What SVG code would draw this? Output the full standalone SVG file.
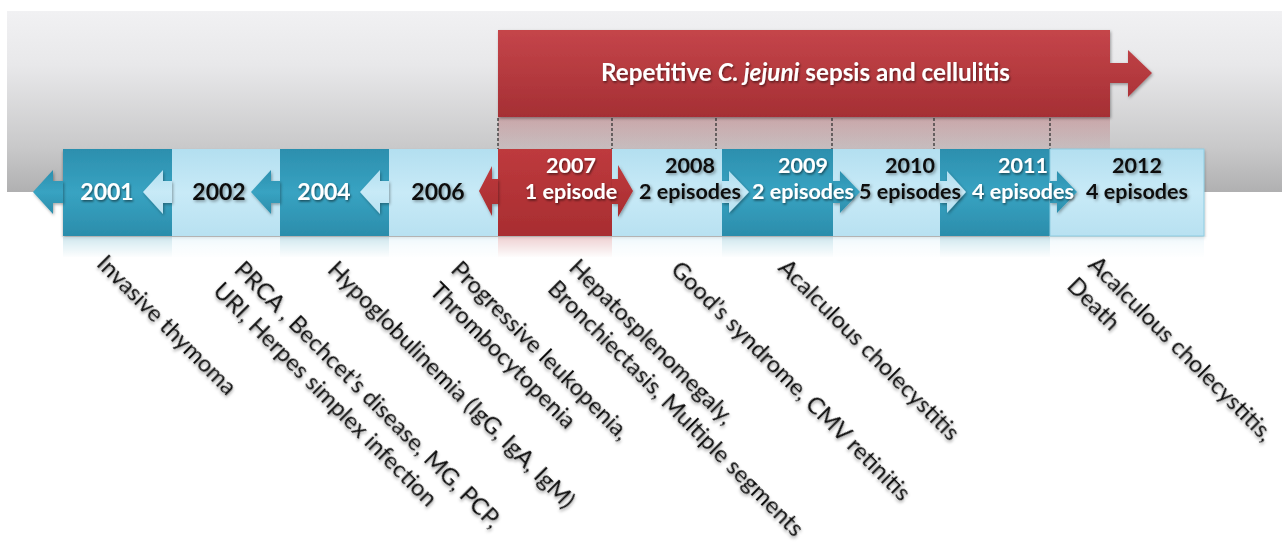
<svg xmlns="http://www.w3.org/2000/svg" width="1282" height="545" viewBox="0 0 1282 545">
<defs>
<linearGradient id="gBand" x1="0" y1="0" x2="0" y2="1">
<stop offset="0" stop-color="#f1f1f3"/>
<stop offset="0.3" stop-color="#e8e8ea"/>
<stop offset="0.75" stop-color="#c9c9ca"/>
<stop offset="1" stop-color="#b0b0b1"/>
</linearGradient>
<linearGradient id="gBanner" x1="0" y1="0" x2="0" y2="1">
<stop offset="0" stop-color="#c5454a"/>
<stop offset="1" stop-color="#a52f34"/>
</linearGradient>
<linearGradient id="gPink" x1="0" y1="0" x2="0" y2="1">
<stop offset="0" stop-color="#b03a40" stop-opacity="0.3"/>
<stop offset="1" stop-color="#b03a40" stop-opacity="0.08"/>
</linearGradient>
<linearGradient id="gDark" x1="0" y1="0" x2="0" y2="1">
<stop offset="0" stop-color="#2c8fae"/>
<stop offset="0.5" stop-color="#38a3c2"/>
<stop offset="1" stop-color="#2b8dab"/>
</linearGradient>
<linearGradient id="gLight" x1="0" y1="0" x2="0" y2="1">
<stop offset="0" stop-color="#b3dff0"/>
<stop offset="0.5" stop-color="#c8eaf7"/>
<stop offset="1" stop-color="#b8e1f1"/>
</linearGradient>
<linearGradient id="gRed" x1="0" y1="0" x2="0" y2="1">
<stop offset="0" stop-color="#be3a3d"/>
<stop offset="1" stop-color="#a82d31"/>
</linearGradient>
<linearGradient id="gRefl" x1="0" y1="0" x2="0" y2="1">
<stop offset="0" stop-color="#fff" stop-opacity="0.55"/>
<stop offset="1" stop-color="#fff" stop-opacity="1"/>
</linearGradient>
<filter id="fBox" x="-5%" y="-10%" width="110%" height="130%">
<feDropShadow dx="0" dy="2" stdDeviation="1.5" flood-color="#000" flood-opacity="0.35"/>
</filter>
<filter id="fArr" x="-30%" y="-30%" width="160%" height="160%">
<feDropShadow dx="1" dy="1.5" stdDeviation="1.5" flood-color="#000" flood-opacity="0.35"/>
</filter>
<filter id="fTxt" x="-10%" y="-30%" width="120%" height="160%">
<feDropShadow dx="1" dy="1.5" stdDeviation="0.8" flood-color="#000" flood-opacity="0.55"/>
</filter>
<filter id="fLab" x="-10%" y="-30%" width="120%" height="160%">
<feDropShadow dx="1.5" dy="1.5" stdDeviation="1.4" flood-color="#000" flood-opacity="0.4"/>
</filter>
</defs>
<style>
.yr{font-family:Lato,"Liberation Sans",sans-serif;font-weight:bold;font-size:21.5px;text-anchor:middle}
.big{font-size:23px}
.w{fill:#ffffff;filter:url(#fTxt)}
.k{fill:#111111;filter:url(#fLab)}
.lab{font-family:Lato,"Liberation Sans",sans-serif;font-size:23.5px;fill:#111;filter:url(#fLab)}
.tick{stroke:#333;stroke-width:1.3;stroke-dasharray:3 2;fill:none}
.dark{fill:url(#gDark)}
.light{fill:url(#gLight)}
.red{fill:url(#gRed)}
</style>
<rect width="1282" height="545" fill="#ffffff"/>
<rect x="7" y="11" width="1275" height="181" fill="url(#gBand)"/>

<g id="banner">
<rect x="498" y="117" width="612" height="32" fill="url(#gPink)"/>
<path d="M498,30 H1110 V63 H1128 V50 L1152,73 L1128,97 V83 H1110 V117 H498 Z" fill="url(#gBanner)" filter="url(#fArr)"/>
<text x="805.5" y="81" class="yr w" style="font-size:24px" textLength="409" lengthAdjust="spacingAndGlyphs">Repetitive <tspan font-style="italic">C. jejuni</tspan> sepsis and cellulitis</text>
</g>

<g id="connectors">
<line class="tick" x1="498" y1="118" x2="498" y2="149"/>
<line class="tick" x1="612" y1="118" x2="612" y2="149"/>
<line class="tick" x1="716" y1="118" x2="716" y2="149"/>
<line class="tick" x1="832" y1="118" x2="832" y2="149"/>
<line class="tick" x1="934" y1="118" x2="934" y2="149"/>
<line class="tick" x1="1050" y1="118" x2="1050" y2="149"/>
</g>

<g id="boxes" filter="url(#fBox)">
<rect x="63" y="149" width="109" height="87" class="dark"/>
<rect x="172" y="149" width="108" height="87" class="light"/>
<rect x="280" y="149" width="109" height="87" class="dark"/>
<rect x="389" y="149" width="109" height="87" class="light"/>
<rect x="498" y="149" width="114" height="87" class="red"/>
<rect x="612" y="149" width="110" height="87" class="light"/>
<rect x="722" y="149" width="111" height="87" class="dark"/>
<rect x="833" y="149" width="107" height="87" class="light"/>
<rect x="940" y="149" width="110" height="87" class="dark"/>
<rect x="1050" y="149" width="154" height="87" class="light" stroke="#8fcde2" stroke-width="1"/>
</g>
<g id="reflection" opacity="0.5">
<rect x="63" y="237" width="109" height="20" class="dark"/>
<rect x="172" y="237" width="108" height="20" class="light"/>
<rect x="280" y="237" width="109" height="20" class="dark"/>
<rect x="389" y="237" width="109" height="20" class="light"/>
<rect x="498" y="237" width="114" height="20" class="red"/>
<rect x="612" y="237" width="110" height="20" class="light"/>
<rect x="722" y="237" width="111" height="20" class="dark"/>
<rect x="833" y="237" width="107" height="20" class="light"/>
<rect x="940" y="237" width="110" height="20" class="dark"/>
<rect x="1050" y="237" width="154" height="20" class="light"/>
</g>
<rect x="0" y="237" width="1282" height="21" fill="url(#gRefl)"/>

<g id="arrows">
<path class="dark" filter="url(#fArr)" d="M63,181 H53 V170 L33,192 L53,214 V203 H63 Z"/>
<path class="light" filter="url(#fArr)" d="M172,181 H163 V170 L143,192 L163,214 V203 H172 Z"/>
<path class="dark" filter="url(#fArr)" d="M280,181 H271 V170 L251,192 L271,214 V203 H280 Z"/>
<path class="light" filter="url(#fArr)" d="M389,181 H380 V170 L360,192 L380,214 V203 H389 Z"/>
<path class="red" filter="url(#fArr)" d="M498,179 H492 V166 L479,191 L492,216 V204 H498 Z"/>
<path class="red" filter="url(#fArr)" d="M612,179 H618 V165 L633,191 L618,217 V204 H612 Z"/>
<path class="light" filter="url(#fArr)" d="M722,181 H729 V171 L749,192 L729,213 V203 H722 Z"/>
<path class="dark" filter="url(#fArr)" d="M833,181 H840 V171 L860,192 L840,213 V203 H833 Z"/>
<path class="light" filter="url(#fArr)" d="M940,181 H947 V171 L966,192 L947,213 V203 H940 Z"/>
<path class="dark" filter="url(#fArr)" d="M1050,181 H1057 V171 L1077,192 L1057,213 V203 H1050 Z"/>
</g>

<g id="y2001"><text x="107" y="200" class="yr big w">2001</text></g>
<g id="y2002"><text x="219" y="200" class="yr big k">2002</text></g>
<g id="y2004"><text x="324" y="200" class="yr big w">2004</text></g>
<g id="y2006"><text x="438" y="200" class="yr big k">2006</text></g>
<g id="y2007"><text x="571" y="173" class="yr w">2007</text><text x="571" y="199" class="yr w">1 episode</text></g>
<g id="y2008"><text x="690" y="173" class="yr k">2008</text><text x="690" y="199" class="yr k">2 episodes</text></g>
<g id="y2009"><text x="803" y="173" class="yr w">2009</text><text x="803" y="199" class="yr w">2 episodes</text></g>
<g id="y2010"><text x="910" y="173" class="yr k">2010</text><text x="910" y="199" class="yr k">5 episodes</text></g>
<g id="y2011"><text x="1023" y="173" class="yr w">2011</text><text x="1023" y="199" class="yr w">4 episodes</text></g>
<g id="y2012"><text x="1137" y="173" class="yr k">2012</text><text x="1137" y="199" class="yr k">4 episodes</text></g>

<g id="label1"><text class="lab" transform="translate(95.5,265) rotate(45)">Invasive thymoma</text></g>
<g id="label2"><text class="lab" transform="translate(233,271) rotate(45)"><tspan x="0" y="0">PRCA , Bechcet’s disease, MG, PCP,</tspan><tspan x="0" y="30">URI, Herpes simplex infection</tspan></text></g>
<g id="label3"><text class="lab" transform="translate(326.4,271) rotate(45)">Hypoglobulinemia (IgG, IgA, IgM)</text></g>
<g id="label4"><text class="lab" transform="translate(449.7,271) rotate(45)"><tspan x="0" y="0">Progressive leukopenia,</tspan><tspan x="0" y="30">Thrombocytopenia</tspan></text></g>
<g id="label5"><text class="lab" transform="translate(567.7,269) rotate(45)"><tspan x="0" y="0">Hepatosplenomegaly,</tspan><tspan x="0" y="30">Bronchiectasis, Multiple segments</tspan></text></g>
<g id="label6"><text class="lab" transform="translate(669.7,271) rotate(45)">Good’s syndrome, CMV retinitis</text></g>
<g id="label7"><text class="lab" transform="translate(777,269) rotate(45)">Acalculous cholecystitis</text></g>
<g id="label8"><text class="lab" transform="translate(1087,266) rotate(45)"><tspan x="0" y="0">Acalculous cholecystitis,</tspan><tspan x="0" y="30">Death</tspan></text></g>
</svg>
